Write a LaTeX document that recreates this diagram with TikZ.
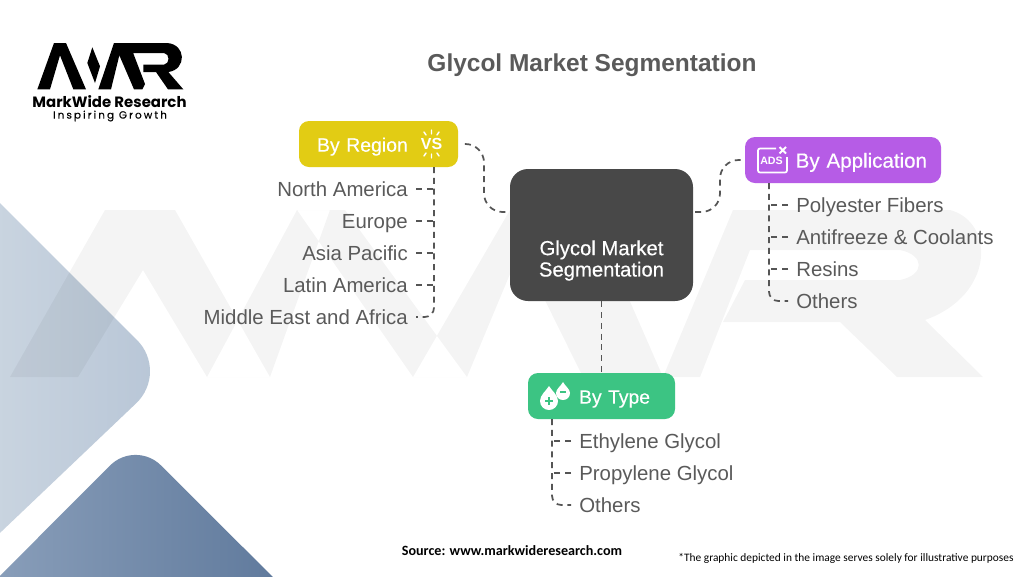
\documentclass[tikz,border=0pt]{standalone}
\usepackage{fontspec}
\setmainfont{Liberation Sans}
\newfontfamily\medfont[FakeBold=0.35]{Liberation Sans}
\newfontfamily\popfont{Poppins}
\newfontfamily\popls[LetterSpace=20,FakeBold=0.3]{Poppins}
\newfontfamily\calfont{Carlito}
\usetikzlibrary{calc}
\definecolor{txt}{HTML}{5A5A5A}
\definecolor{dashc}{HTML}{555555}
\definecolor{lightA}{HTML}{CFD9E3}
\definecolor{lightB}{HTML}{B7C5D6}
\definecolor{darkA}{HTML}{92A6C0}
\definecolor{darkB}{HTML}{577296}
\definecolor{regionc}{HTML}{E2CC14}
\definecolor{appc}{HTML}{B65CE6}
\definecolor{typec}{HTML}{3CC483}
\definecolor{centerc}{HTML}{484848}
\tikzset{
  box/.style={rounded corners=7.5pt,inner sep=0pt,minimum height=34.5pt,text=white,text height=12.5pt,text depth=1pt},
  item/.style={inner sep=0pt,text=txt,text height=12pt,text depth=1pt,font=\fontsize{15.3pt}{16pt}\selectfont},
  rightitem/.style={item,anchor=east},
  leftitem/.style={item,anchor=west},
  conn/.style={draw=dashc,line width=1.3pt,dash pattern=on 4.5pt off 3.6pt},
  tick/.style={conn,shorten <=6pt},
  lastbranch/.style={conn,rounded corners=7pt,shorten >=6pt},
}
\begin{document}
\begin{tikzpicture}[x=0.75pt,y=-0.75pt]
\useasboundingbox (0,0) rectangle (1024,576);
\fill[white] (0,0) rectangle (1024,576);
% decorative shapes
\begin{scope}
\clip (0,0) rectangle (1024,576);
\path[left color=lightA,right color=lightB,rounded corners=34pt]
  (-60,143) -- (169,372) -- (-60,590) -- cycle;
\path[left color=darkA,right color=darkB,rounded corners=27pt]
  (-70,646) -- (135.5,440) -- (342,646) -- cycle;
\end{scope}
% watermark
\fill[black,opacity=0.045,nonzero rule]
  (10,377) -- (105,210) -- (175,210) -- (270,377) -- (207,377) -- (143,270) -- (78,377) -- cycle
  (207,377) -- (270,377) -- (330,210) -- (297,210) -- cycle
  (297,210) -- (345,210) -- (467,377) -- (413,377) -- cycle
  (413,377) -- (467,377) -- (520,250) -- (583,377) -- (663,377) -- (590,210) -- (510,210) -- cycle
  (663,377) -- (733,210) -- (950,210) .. controls (995,222) and (995,295) .. (925,320) -- (983,377) -- (897,377) -- (840,322) -- (723,322) -- (745,280) -- (900,280) .. controls (925,275) and (925,255) .. (900,250) -- (750,250) -- (700,377) -- cycle;
% logo
\begin{scope}[shift={(30,38)},x=0.25pt,y=-0.25pt]
\fill[black]
  (22,154) -- (72,15) -- (108,15) -- (168,154) -- (130,154) -- (90,52) -- (60,154) -- cycle
  (187,28) -- (210,85) -- (195,135) -- (172,75) -- cycle
  (205,154) -- (252,15) -- (298,15) -- (345,138) -- (337,154) -- (312,154) -- (268,52) -- (243,154) -- cycle
  (298,15) -- (410,15) .. controls (470,18) and (470,95) .. (415,102) -- (460,154) -- (414,154) -- (378,102) -- (340,102) -- (340,80) -- (402,80) .. controls (420,78) and (420,47) .. (402,45) -- (310,45) -- cycle;
\end{scope}
\node[inner sep=0pt,font=\popfont\bfseries\fontsize{11.2pt}{12pt}\selectfont] (brand) at (109.5,101.5) {MarkWide Research};
\node[inner sep=0pt,font=\popls\fontsize{7.8pt}{8pt}\selectfont] (slogan) at (110,116) {Inspiring Growth};
% title
\node[inner sep=0pt,text=txt,font=\bfseries\fontsize{18.35pt}{20pt}\selectfont] (title) at (592,65.5) {Glycol Market Segmentation};
% main boxes
\node[box,fill=centerc,rounded corners=13.5pt,minimum width=137.25pt,minimum height=99pt,text height=,text depth=,font=\medfont\fontsize{15.2pt}{16pt}\selectfont] (center) at (601.5,235)
  {\raisebox{-23.5pt}[0pt][0pt]{\begin{tabular}{@{}c@{}}Glycol Market\\Segmentation\end{tabular}}};
\node[box,fill=regionc,minimum width=119.25pt,text width=92.25pt,align=left,font=\medfont\fontsize{14.6pt}{16pt}\selectfont] (region) at (378.5,144) {By Region};
\node[box,fill=appc,minimum width=147pt,text width=126pt,align=right,font=\medfont\fontsize{15.4pt}{16pt}\selectfont] (app) at (843,160) {By Application};
\node[box,fill=typec,minimum width=110.25pt,text width=72.75pt,align=right,font=\medfont\fontsize{14.5pt}{16pt}\selectfont] (type) at (601.5,396) {By Type};
% icons
\node[inner sep=0pt,text=white,font=\bfseries\fontsize{12pt}{12pt}\selectfont] (vsicon) at (431.5,144) {VS};
\draw[white,line width=1.1pt,line cap=round]
  (424,132) -- (426,135) (431.5,130) -- (431.5,134) (439,132) -- (437,135)
  (424,156) -- (426,153) (431.5,158) -- (431.5,154) (439,156) -- (437,153);
\draw[white,line width=1.3pt,rounded corners=1.5pt] (776,148.5) -- (758,148.5) -- (758,172.5) -- (787,172.5) -- (787,157);
\draw[white,line width=1.5pt] (779.5,147) -- (786,153.5) (786,147) -- (779.5,153.5);
\node[inner sep=0pt,text=white,font=\bfseries\fontsize{8pt}{8pt}\selectfont] (adsicon) at (771.5,161) {ADS};
\fill[white] (549,386) .. controls (546,391) and (540,395) .. (540,401) .. controls (540,406) and (544,410) .. (549,410) .. controls (554,410) and (558,406) .. (558,401) .. controls (558,395) and (552,391) .. (549,386) -- cycle;
\fill[white] (563,382) .. controls (561,386) and (556,389) .. (556,393) .. controls (556,397) and (559,400) .. (563,400) .. controls (567,400) and (570,397) .. (570,393) .. controls (570,389) and (565,386) .. (563,382) -- cycle;
\draw[typec,line width=1pt] (545,401) -- (553,401) (549,397) -- (549,405) (560,392) -- (566,392);
% items
\node[rightitem] (r1) at (408,189) {North America};
\node[rightitem] (r2) at (408,221) {Europe};
\node[rightitem] (r3) at (408,253) {Asia Pacific};
\node[rightitem] (r4) at (408,285) {Latin America};
\node[rightitem] (r5) at (408,317) {Middle East and Africa};
\node[leftitem] (a1) at (796,205) {Polyester Fibers};
\node[leftitem] (a2) at (796,237) {Antifreeze \& Coolants};
\node[leftitem] (a3) at (796,269) {Resins};
\node[leftitem] (a4) at (796,301) {Others};
\node[leftitem] (t1) at (579,441) {Ethylene Glycol};
\node[leftitem] (t2) at (579,473) {Propylene Glycol};
\node[leftitem] (t3) at (579,505) {Others};
% branch origins
\coordinate (rb) at (434,167);
\coordinate (ab) at (769,183);
\coordinate (tb) at (552,419);
\draw[lastbranch] (rb) |- (r5.east);
\draw[lastbranch] (ab) |- (a4.west);
\draw[lastbranch] (tb) |- (t3.west);
\foreach \n in {r1,r2,r3,r4} \draw[tick] (\n.east) -- (\n.east -| rb);
\foreach \n in {a1,a2,a3} \draw[tick] (\n.west) -- (\n.west -| ab);
\foreach \n in {t1,t2} \draw[tick] (\n.west) -- (\n.west -| tb);
% main connectors
\coordinate (cl) at (510,212);
\coordinate (cr) at (693,212);
\draw[conn,rounded corners=14pt,shorten <=5pt] (region.east) -- (484,144) -- (484,212) -- (cl);
\draw[conn,rounded corners=14pt,shorten <=3pt] (app.west) -- (720,160) -- (720,212) -- (cr);
\draw[conn] (center.south) -- (center.south |- type.north);
% source
\node[inner sep=0pt,font=\calfont\bfseries\fontsize{10.6pt}{12pt}\selectfont] (source) at (512,551) {Source: www.markwideresearch.com};
\node[inner sep=0pt,font=\calfont\fontsize{8.55pt}{10pt}\selectfont] (note) at (846,558) {*The graphic depicted in the image serves solely for illustrative purposes};
\end{tikzpicture}
\end{document}
